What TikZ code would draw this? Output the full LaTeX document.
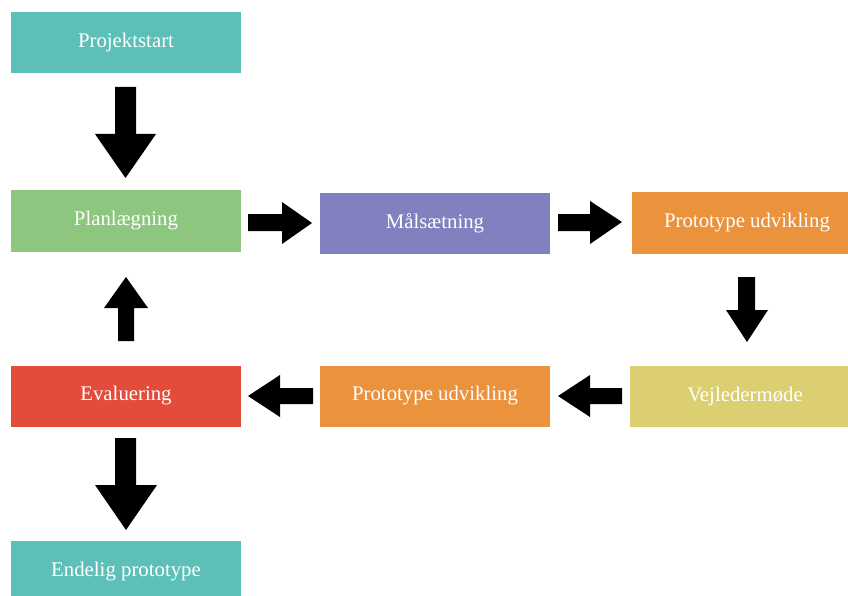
\documentclass[tikz,border=0pt]{standalone}
\usepackage{fontspec}
\setmainfont{Liberation Serif}
\definecolor{cteal}{HTML}{5CBFB8}
\definecolor{cgreen}{HTML}{8DC67E}
\definecolor{cpurple}{HTML}{8280BE}
\definecolor{corange}{HTML}{EB923C}
\definecolor{cyellow}{HTML}{DBCF72}
\definecolor{cred}{HTML}{E34C3A}
\tikzset{
  box/.style={draw=none, minimum height=61pt, minimum width=230pt, inner sep=0pt, text=white,
    font=\fontsize{20.8}{24}\selectfont},
  blockarrow/.style={fill=black, draw=none}
}
\begin{document}
\begin{tikzpicture}[x=1pt,y=-1pt]
\useasboundingbox (0,0) rectangle (848,596);
\begin{scope}
\clip (0,0) rectangle (848,596);
\node[box,fill=cteal]   (start) at (126,42.5)  {Projektstart};
\node[box,fill=cgreen]  (plan)  at (126,221)   {Planlægning};
\node[box,fill=cpurple] (maal)  at (435,223.5) {Målsætning};
\node[box,fill=corange] (proto1) at (747,223) {Prototype udvikling};
\node[box,fill=cyellow] (vejl) at (745,396) {Vejledermøde};
\node[box,fill=corange] (proto2) at (435,396) {Prototype udvikling};
\node[box,fill=cred]    (eval)  at (126,396)   {Evaluering};
\node[box,fill=cteal,anchor=north] (end) at (126,541) {Endelig prototype};
\end{scope}
% block arrows
\fill[blockarrow] (115,87)--(136,87)--(136,134)--(156,134)--(125.5,178)--(95,134)--(115,134)--cycle;
\fill[blockarrow] (248,214)--(282,214)--(282,202)--(312,223)--(282,244)--(282,231)--(248,231)--cycle;
\fill[blockarrow] (558,214)--(590,214)--(590,201)--(622,222)--(590,244)--(590,231)--(558,231)--cycle;
\fill[blockarrow] (738,277)--(755,277)--(755,310)--(768,310)--(747,342)--(726,310)--(738,310)--cycle;
\fill[blockarrow] (558,396)--(590,375)--(590,388)--(622,388)--(622,404)--(590,404)--(590,417)--cycle;
\fill[blockarrow] (248,396)--(280,375)--(280,388)--(313,388)--(313,404)--(280,404)--(280,417)--cycle;
\fill[blockarrow] (126,277)--(148,308)--(134,308)--(134,341)--(118,341)--(118,308)--(104,308)--cycle;
\fill[blockarrow] (115,438)--(136,438)--(136,485)--(157,485)--(126,530)--(95,485)--(115,485)--cycle;
\end{tikzpicture}
\end{document}
